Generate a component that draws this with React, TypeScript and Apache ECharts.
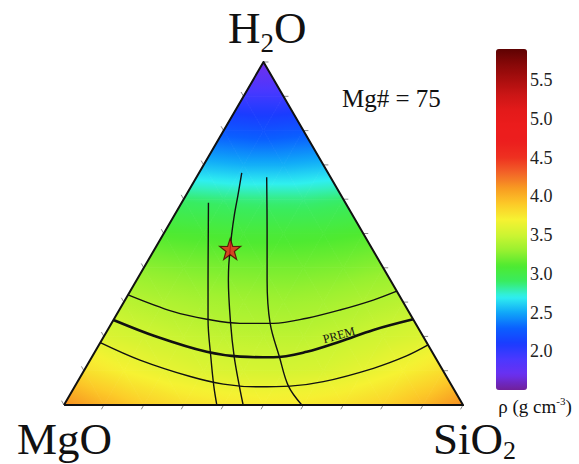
import React, { useEffect, useRef } from "react";
import * as echarts from "echarts";

// ---------- data ----------
// Density field (g cm^-3) on a ternary grid, rows by H2O fraction 0, 0.1, ... 1.0 (bottom to apex);
// in each row nodes run from SiO2 = 0 (MgO–H2O side) to the SiO2–H2O side in steps of 0.1.
const h2oLevels = [0, 0.1, 0.2, 0.3, 0.4, 0.5, 0.6, 0.7, 0.8, 0.9, 1.0];
const densityRows = [
  [4.15, 4.0, 3.88, 3.8, 3.76, 3.74, 3.75, 3.79, 3.86, 3.98, 4.15],
  [3.8, 3.7, 3.63, 3.58, 3.55, 3.54, 3.56, 3.62, 3.7, 3.8],
  [3.57, 3.52, 3.48, 3.45, 3.44, 3.44, 3.47, 3.52, 3.57],
  [3.43, 3.39, 3.36, 3.34, 3.33, 3.35, 3.39, 3.43],
  [3.27, 3.24, 3.22, 3.21, 3.21, 3.23, 3.27],
  [3.1, 3.08, 3.06, 3.06, 3.07, 3.1],
  [2.88, 2.86, 2.85, 2.85, 2.88],
  [2.55, 2.52, 2.52, 2.55],
  [2.25, 2.22, 2.25],
  [1.95, 1.95],
  [1.65],
];

// Curves as [SiO2 fraction, H2O fraction] pairs
const isoUpper = [[0.0, 0.321], [0.138, 0.272], [0.233, 0.25], [0.322, 0.238], [0.406, 0.238], [0.482, 0.253], [0.553, 0.277], [0.622, 0.306], [0.668, 0.332]];
const isoPrem = [[0.0, 0.248], [0.133, 0.199], [0.28, 0.155], [0.371, 0.141], [0.455, 0.139], [0.531, 0.155], [0.6, 0.185], [0.666, 0.219], [0.75, 0.25]];
const isoLower = [[0.0, 0.182], [0.125, 0.131], [0.275, 0.083], [0.369, 0.061], [0.456, 0.053], [0.539, 0.055], [0.616, 0.068], [0.722, 0.107], [0.787, 0.143], [0.825, 0.175]];
const curveLeft = [[0.067, 0.59], [0.121, 0.481], [0.179, 0.364], [0.237, 0.248], [0.298, 0.14], [0.348, 0.055], [0.383, 0.0]];
const curveMid = [[0.107, 0.677], [0.13, 0.612], [0.15, 0.554], [0.172, 0.496], [0.189, 0.455], [0.209, 0.408], [0.23, 0.364], [0.298, 0.239], [0.356, 0.141], [0.412, 0.055], [0.449, 0.0]];
const curveRight = [[0.176, 0.664], [0.254, 0.51], [0.327, 0.364], [0.397, 0.239], [0.47, 0.14], [0.535, 0.055], [0.596, 0.0]];
const starPoint = [[0.189, 0.455]];

// Colour bar
const cbMin = 1.5;
const cbMax = 5.9;
const cbColors = [
  "#70209a", "#6a30f0", "#4a38ff", "#1a3cff", "#0a60ff", "#10a8f8", "#30f0f0", "#38ec60",
  "#4eea30", "#98f030", "#cdf432", "#f6f232", "#fcca28", "#f89c22", "#f26428", "#ee3020",
  "#ec1e1e", "#ec1c1c", "#e41a1a", "#cc1616", "#aa0e0e", "#880808", "#5e0202",
];
const cbTicks = [2.0, 2.5, 3.0, 3.5, 4.0, 4.5, 5.0, 5.5];
const tickFractions = [0.1, 0.2, 0.3, 0.4, 0.5, 0.6, 0.7, 0.8, 0.9, 1.0];

const SERIF = "'Liberation Serif', 'Times New Roman', serif";

// ---------- helpers ----------
const toXY = (p: number[]) => [p[0] + p[1] / 2, p[1]];

function hexToRgb(h: string) {
  const n = parseInt(h.slice(1), 16);
  return [(n >> 16) & 255, (n >> 8) & 255, n & 255];
}
const cbRgb = cbColors.map(hexToRgb);
function colorAt(v: number) {
  let t = ((v - cbMin) / (cbMax - cbMin)) * (cbRgb.length - 1);
  t = Math.max(0, Math.min(cbRgb.length - 1, t));
  const i = Math.min(Math.floor(t), cbRgb.length - 2);
  const f = t - i;
  const a = cbRgb[i], b = cbRgb[i + 1];
  const c = [0, 1, 2].map((k) => Math.round(a[k] + (b[k] - a[k]) * f));
  return `rgb(${c[0]},${c[1]},${c[2]})`;
}

function cellFill(p: number[][], v: number[]) {
  const dx2 = p[1][0] - p[0][0], dy2 = p[1][1] - p[0][1];
  const dx3 = p[2][0] - p[0][0], dy3 = p[2][1] - p[0][1];
  const dv2 = v[1] - v[0], dv3 = v[2] - v[0];
  const det = dx2 * dy3 - dx3 * dy2;
  const vmin = Math.min(v[0], v[1], v[2]);
  const vmax = Math.max(v[0], v[1], v[2]);
  if (Math.abs(det) < 1e-9 || vmax - vmin < 1e-6) return colorAt((vmin + vmax) / 2);
  const gx = (dv2 * dy3 - dv3 * dy2) / det;
  const gy = (dx2 * dv3 - dx3 * dv2) / det;
  const gl = Math.sqrt(gx * gx + gy * gy);
  if (gl < 1e-9) return colorAt(v[0]);
  const k = v.indexOf(vmin);
  const sx = p[k][0], sy = p[k][1];
  const len = (vmax - vmin) / gl;
  const ex = sx + (gx / gl) * len, ey = sy + (gy / gl) * len;
  const n = Math.max(2, Math.ceil((vmax - vmin) / 0.04) + 1);
  const stops = [];
  for (let i = 0; i < n; i++) {
    stops.push({ offset: i / (n - 1), color: colorAt(vmin + ((vmax - vmin) * i) / (n - 1)) });
  }
  return new echarts.graphic.LinearGradient(sx, sy, ex, ey, stops, true);
}

// Build triangle cells from the grid
const step = 0.1;
const cells: number[][] = [];
for (let i = 0; i < densityRows.length - 1; i++) {
  const row = densityRows[i], up = densityRows[i + 1];
  const h0 = h2oLevels[i], h1 = h2oLevels[i + 1];
  for (let j = 0; j < row.length - 1; j++) {
    const a = toXY([j * step, h0]), b = toXY([(j + 1) * step, h0]), c = toXY([j * step, h1]);
    cells.push([a[0], a[1], row[j], b[0], b[1], row[j + 1], c[0], c[1], up[j]]);
    if (j < up.length - 1) {
      const d = toXY([(j + 1) * step, h1]);
      cells.push([b[0], b[1], row[j + 1], c[0], c[1], up[j], d[0], d[1], up[j + 1]]);
    }
  }
}

// Edge ticks: [x, y, edge]
const tickData: number[][] = [];
tickFractions.forEach((f) => {
  const b = toXY([f, 0]);
  tickData.push([b[0], b[1], 0]);
  const r = toXY([1 - f, f]);
  tickData.push([r[0], r[1], 1]);
  const l = toXY([0, 1 - f]);
  tickData.push([l[0], l[1], 2]);
});
const tickDirs = [[-0.5, 0.866], [1, 0], [-0.5, -0.866]];

const outline = [[0, 0], [1, 0], [0, 1], [0, 0]].map(toXY);

const curveSeries = (data: number[][], width: number, z: number) => ({
  type: "line",
  data: data.map(toXY),
  smooth: 0.35,
  showSymbol: false,
  symbol: "none",
  silent: true,
  z,
  lineStyle: { color: "#111", width },
});

const textEl = (text: string, x: number, y: number, size: number, extra: any = {}) => ({
  type: "text",
  x,
  y,
  silent: true,
  z: 100,
  ...extra,
  style: {
    text,
    fontSize: size,
    fontFamily: SERIF,
    fill: "#111",
    align: extra.align || "left",
    textAlign: extra.align || "left",
    verticalAlign: "middle",
    textVerticalAlign: "middle",
  },
});

const option: any = {
  animation: false,
  backgroundColor: "#ffffff",
  textStyle: { fontFamily: SERIF },
  grid: [
    { left: 64, top: 62, width: 399, height: 343 },
    { left: 496, top: 49, width: 31, height: 341 },
  ],
  xAxis: [
    { type: "value", min: 0, max: 1, show: false, gridIndex: 0 },
    { type: "value", min: 0, max: 1, show: false, gridIndex: 1 },
  ],
  yAxis: [
    { type: "value", min: 0, max: 1, show: false, gridIndex: 0 },
    {
      type: "value",
      gridIndex: 1,
      min: cbMin,
      max: cbMax,
      position: "right",
      axisLine: { show: false },
      splitLine: { show: false },
      axisTick: { show: true, length: 4, inside: false, customValues: cbTicks, lineStyle: { color: "#333", width: 1 } },
      axisLabel: {
        customValues: cbTicks,
        formatter: (v: number) => v.toFixed(1),
        fontFamily: SERIF,
        fontSize: 18,
        color: "#222",
        margin: 3,
      },
    },
  ],
  visualMap: {
    type: "continuous",
    min: cbMin,
    max: cbMax,
    left: 496,
    top: 49,
    itemWidth: 31,
    itemHeight: 341,
    padding: 0,
    calculable: false,
    realtime: false,
    hoverLink: false,
    seriesIndex: 0,
    inRange: { color: cbColors },
  },
  series: [
    { type: "line", xAxisIndex: 1, yAxisIndex: 1, data: [], silent: true },
    {
      type: "custom",
      silent: true,
      z: 1,
      data: cells,
      encode: { x: [0, 3, 6], y: [1, 4, 7] },
      renderItem: (_p: any, api: any) => {
        const pts = [0, 1, 2].map((k) => api.coord([api.value(k * 3), api.value(k * 3 + 1)]));
        const vals = [api.value(2), api.value(5), api.value(8)];
        const fill = cellFill(pts, vals);
        return {
          type: "polygon",
          shape: { points: pts },
          style: { fill, stroke: fill, lineWidth: 0.8 },
        };
      },
    },
    curveSeries(isoUpper, 1.4, 3),
    curveSeries(isoPrem, 2.6, 3),
    curveSeries(isoLower, 1.4, 3),
    curveSeries(curveLeft, 1.4, 3),
    curveSeries(curveMid, 1.4, 3),
    curveSeries(curveRight, 1.4, 3),
    {
      type: "line",
      data: outline,
      showSymbol: false,
      symbol: "none",
      silent: true,
      z: 4,
      lineStyle: { color: "#111", width: 2, join: "miter" },
    },
    {
      type: "custom",
      silent: true,
      z: 4,
      data: tickData,
      encode: { x: 0, y: 1 },
      renderItem: (_p: any, api: any) => {
        const pt = api.coord([api.value(0), api.value(1)]);
        const d = tickDirs[api.value(2)];
        return {
          type: "line",
          shape: { x1: pt[0], y1: pt[1], x2: pt[0] + d[0] * 5, y2: pt[1] + d[1] * 5 },
          style: { stroke: "#8a8a8a", lineWidth: 1 },
        };
      },
    },
    {
      type: "scatter",
      data: starPoint.map(toXY),
      symbol:
        "path://M50,0 L61.8,35.1 L97.6,34.5 L69,56.9 L79.4,91.2 L50,70.6 L20.6,91.2 L31,56.9 L2.4,34.5 L38.2,35.1 Z",
      symbolSize: 21,
      silent: true,
      z: 6,
      itemStyle: { color: "#f01e1e", borderColor: "#4a0000", borderWidth: 1.2 },
    },
  ],
  graphic: [
    textEl("H", 228, 28, 45),
    textEl("2", 260.5, 43, 27),
    textEl("O", 274, 28, 45),
    textEl("MgO", 17, 439, 45),
    textEl("SiO", 433, 439, 45),
    textEl("2", 503, 450, 26),
    textEl("Mg# = 75", 342, 98, 25),
    textEl("PREM", 339, 335, 12, { align: "center", rotation: 0.27 }),
    {
      type: "text",
      x: 535,
      y: 406,
      silent: true,
      z: 100,
      style: {
        text: "{a|ρ (g cm}{b|-3}{a|)}",
        align: "center",
        textAlign: "center",
        verticalAlign: "middle",
        textVerticalAlign: "middle",
        rich: {
          a: { fontFamily: SERIF, fontSize: 19, lineHeight: 22, fill: "#111", color: "#111" },
          b: { fontFamily: SERIF, fontSize: 11, lineHeight: 11, verticalAlign: "top", fill: "#111", color: "#111" },
        },
      },
    },
  ],
};

export default function App() {
  const ref = useRef<HTMLDivElement>(null);
  useEffect(() => {
    document.body.style.margin = "0";
    const chart = echarts.init(ref.current as HTMLDivElement, null, { renderer: "svg" });
    chart.setOption(option);
    return () => chart.dispose();
  }, []);
  return <div ref={ref} style={{ width: 579, height: 464 }} />;
}
